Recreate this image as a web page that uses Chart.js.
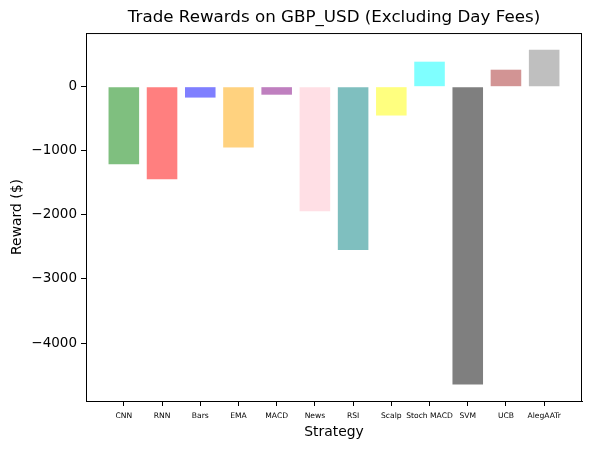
<!DOCTYPE html>
<html>
<head>
<meta charset="utf-8">
<script src="https://cdn.jsdelivr.net/npm/chart.js@4.4.0/dist/chart.umd.min.js"></script>
<style>
  html, body { margin: 0; padding: 0; background: #fff; }
  #wrap { width: 592px; height: 450px; }
</style>
</head>
<body>
<div id="wrap"><canvas id="rewardChart"></canvas></div>
<script>
// Values
const strategies = ['CNN', 'RNN', 'Bars', 'EMA', 'MACD', 'News', 'RSI', 'Scalp', 'Stoch MACD', 'SVM', 'UCB', 'AlegAATr'];
const rewards = [-1210, -1445, -170, -950, -125, -1945, -2550, -450, 390, -4645, 265, 575];
const barColors = [
    'rgba(0,128,0,0.5)', 'rgba(255,0,0,0.5)', 'rgba(0,0,255,0.5)', 'rgba(255,165,0,0.5)',
    'rgba(128,0,128,0.5)', 'rgba(255,192,203,0.5)', 'rgba(0,128,128,0.5)', 'rgba(255,255,0,0.5)',
    'rgba(0,255,255,0.5)', 'rgba(0,0,0,0.5)', 'rgba(165,42,42,0.5)', 'rgba(128,128,128,0.5)'
];
const yTicks = [-4000, -3000, -2000, -1000, 0];

const fontFamily = '"DejaVu Sans", sans-serif';

// box around the plot, like matplotlib spines
const frame = {
    id: 'frame',
    afterDraw(chart) {
        const { ctx, chartArea: a } = chart;
        ctx.save();
        ctx.strokeStyle = '#000';
        ctx.lineWidth = 1;
        ctx.strokeRect(a.left + 0.5, a.top + 0.5, a.right - a.left - 1, a.bottom - a.top);
        ctx.restore();
    }
};

const ctx = document.getElementById('rewardChart');

new Chart(ctx, {
    type: 'bar',
    data: {
        datasets: [{
            data: rewards.map((v, i) => ({ x: i, y: v })),
            backgroundColor: barColors,
            borderWidth: 0,
            barPercentage: 0.8,
            categoryPercentage: 1.0
        }]
    },
    options: {
        responsive: true,
        maintainAspectRatio: false,
        animation: false,
        layout: { padding: { left: 0, right: 10, top: 0, bottom: 0 } },
        plugins: {
            legend: { display: false },
            tooltip: { enabled: false },
            title: {
                display: true,
                text: 'Trade Rewards on GBP_USD (Excluding Day Fees)',
                fullSize: false,
                color: '#000',
                font: { family: fontFamily, size: 16.7, weight: 'normal' },
                padding: { top: 8, bottom: 5 }
            }
        },
        scales: {
            x: {
                type: 'linear',
                min: -0.99,
                max: 11.99,
                offset: false,
                afterBuildTicks: axis => {
                    axis.ticks = strategies.map((_, i) => ({ value: i }));
                },
                afterFit: scale => { scale.height = 49; },
                ticks: {
                    autoSkip: false,
                    maxRotation: 0,
                    color: '#000',
                    padding: 5,
                    font: { family: fontFamily, size: 7.6 },
                    callback: val => strategies[val]
                },
                grid: { offset: false, drawOnChartArea: false, drawTicks: true, tickLength: 5, color: '#000' },
                border: { display: true, color: '#000' },
                title: {
                    display: true,
                    text: 'Strategy',
                    color: '#000',
                    font: { family: fontFamily, size: 13.9 },
                    padding: { top: 2, bottom: 9 }
                }
            },
            y: {
                min: -4904,
                max: 837,
                afterBuildTicks: axis => {
                    axis.ticks = yTicks.map(v => ({ value: v }));
                },
                afterFit: scale => { scale.width = 86; },
                ticks: {
                    color: '#000',
                    padding: 4,
                    font: { family: fontFamily, size: 13.5 },
                    callback: val => val < 0 ? '\u2212' + Math.abs(val) : String(val)
                },
                grid: { drawOnChartArea: false, drawTicks: true, tickLength: 5, color: '#000' },
                border: { display: true, color: '#000' },
                title: {
                    display: true,
                    text: 'Reward ($)',
                    color: '#000',
                    font: { family: fontFamily, size: 13.9 },
                    padding: { top: 9, bottom: 4 }
                }
            }
        }
    },
    plugins: [frame]
});
</script>
</body>
</html>
